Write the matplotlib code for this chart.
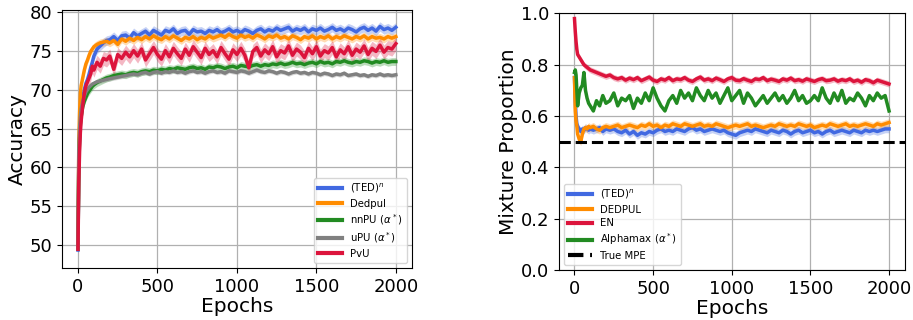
import matplotlib.pyplot as plt
import numpy as np

epochs = [0, 5, 10, 15, 20, 30, 40, 50, 60, 70, 80, 90, 100, 120, 140, 160, 180, 200] + list(range(225, 2001, 25))

# ---- left panel: accuracy ----
acc_ted = [49.4, 60.5, 64.0, 66.0, 67.5, 69.0, 70.0, 70.8, 71.3, 72.0, 72.8, 73.5, 74.3, 75.2, 75.6, 76.0, 76.3, 76.4,
           76.8, 76.3, 76.9, 77.0, 76.6, 77.3, 76.9, 77.2, 77.5, 77.0, 77.6, 77.3,
           77.0, 77.6, 77.4, 77.8, 77.2, 77.5, 77.6, 77.1, 77.7, 77.4, 77.5, 77.2,
           77.6, 77.4, 77.7, 77.3, 77.5, 77.8, 77.4, 77.6, 77.3, 77.7, 77.5, 77.2,
           77.6, 77.8, 77.4, 77.7, 77.5, 77.9, 77.6, 77.8, 78.0, 77.5, 77.8, 77.6,
           77.9, 77.4, 77.8, 77.6, 77.9, 77.5, 77.7, 78.0, 77.6, 77.8, 77.5, 77.9,
           77.7, 77.4, 77.8, 78.0, 77.6, 77.9, 77.5, 78.1, 77.7, 77.9, 77.6, 78.0]
acc_dedpul = [49.5, 63.0, 67.0, 69.5, 70.5, 71.5, 72.5, 73.3, 73.8, 74.4, 74.9, 75.2, 75.5, 75.8, 76.0, 76.1, 76.2, 76.0,
              76.3, 75.8, 76.5, 76.2, 76.6, 76.3, 76.7, 76.4, 76.8, 76.5, 76.9, 76.6,
              76.4, 76.8, 76.5, 76.9, 76.6, 76.3, 76.7, 76.5, 76.8, 76.4, 76.7, 76.5,
              76.9, 76.6, 76.8, 77.0, 76.7, 77.1, 76.8, 76.6, 77.0, 76.7, 76.9, 76.6,
              77.0, 76.8, 76.5, 76.9, 76.7, 77.0, 76.6, 76.8, 76.5, 76.9, 76.7, 76.4,
              76.8, 76.6, 76.9, 76.5, 76.8, 76.6, 76.9, 76.5, 76.8, 76.6, 76.9, 76.7,
              76.5, 76.8, 76.6, 76.9, 76.5, 76.8, 76.6, 76.7, 76.5, 76.8, 76.6, 76.8]
acc_nnpu = [49.5, 60.0, 63.5, 65.5, 66.5, 67.8, 68.5, 69.0, 69.5, 69.8, 70.1, 70.4, 70.6, 70.9, 71.1, 71.3, 71.5, 71.6,
            71.8, 71.9, 72.0, 71.9, 72.1, 72.2, 72.1, 72.3, 72.4, 72.3, 72.5, 72.4,
            72.6, 72.5, 72.7, 72.6, 72.8, 72.7, 72.6, 72.8, 72.9, 72.7, 72.8, 72.6,
            72.9, 72.8, 73.0, 72.9, 72.7, 72.9, 73.0, 72.8, 73.1, 73.0, 72.9, 73.1,
            73.2, 73.0, 73.2, 73.1, 73.3, 73.2, 73.4, 73.2, 73.3, 73.5, 73.3, 73.4,
            73.2, 73.4, 73.5, 73.3, 73.6, 73.4, 73.5, 73.3, 73.6, 73.5, 73.7, 73.5,
            73.4, 73.6, 73.5, 73.7, 73.6, 73.4, 73.6, 73.5, 73.7, 73.5, 73.6, 73.6]
acc_upu = [49.5, 62.0, 65.0, 66.5, 67.5, 68.5, 69.2, 69.7, 70.0, 70.3, 70.5, 70.7, 70.8, 71.0, 71.1, 71.2, 71.3, 71.4,
           71.5, 71.6, 71.7, 71.8, 71.9, 72.0, 71.9, 72.1, 72.2, 72.0, 72.2, 72.3,
           72.1, 72.3, 72.2, 72.4, 72.2, 72.3, 72.1, 72.3, 72.4, 72.2, 72.3, 72.1,
           72.3, 72.4, 72.2, 72.3, 72.1, 72.4, 72.3, 72.2, 72.4, 72.3, 72.1, 72.3,
           72.5, 72.3, 72.2, 72.4, 72.3, 72.1, 72.3, 72.2, 72.0, 72.2, 72.3, 72.1,
           72.2, 72.0, 72.2, 72.1, 71.9, 72.1, 72.0, 71.8, 72.0, 71.9, 72.1, 71.8,
           71.9, 72.0, 71.8, 71.9, 71.7, 71.9, 71.8, 72.0, 71.8, 71.9, 71.8, 71.9]
acc_pvu = [49.5, 58.0, 62.0, 64.5, 66.0, 68.0, 69.5, 70.5, 71.0, 71.5, 72.0, 73.0, 72.5, 73.5, 73.0, 74.0, 73.8, 74.3,
           72.6, 74.5, 74.0, 74.8, 74.2, 75.0, 74.3, 75.2, 73.8, 74.6, 75.4, 74.5,
           73.9, 75.0, 74.2, 75.3, 74.6, 74.0, 75.2, 74.4, 75.5, 74.8, 74.1, 75.3,
           74.5, 75.0, 74.2, 75.4, 74.6, 73.9, 75.1, 74.5, 75.3, 74.4, 72.8, 74.9,
           75.4, 74.3, 75.1, 74.6, 75.5, 74.2, 75.0, 74.7, 75.6, 74.4, 75.2, 74.8,
           74.1, 75.3, 74.6, 75.5, 74.3, 75.0, 74.7, 75.4, 74.2, 75.1, 74.6, 75.5,
           74.4, 75.2, 74.8, 75.6, 74.5, 75.3, 74.9, 75.7, 74.8, 75.4, 75.2, 75.9]
acc_series = [
    ("(TED)$^n$", acc_ted, 0.6, "royalblue"),
    ("Dedpul", acc_dedpul, 0.5, "darkorange"),
    ("nnPU ($\\alpha^*$)", acc_nnpu, 0.5, "forestgreen"),
    ("uPU ($\\alpha^*$)", acc_upu, 0.3, "grey"),
    ("PvU", acc_pvu, 0.9, "crimson"),
]

# ---- right panel: mixture proportion ----
mpe_ted = [0.75, 0.66, 0.60, 0.57, 0.56, 0.55, 0.54, 0.55, 0.545, 0.555, 0.55, 0.545, 0.55, 0.545, 0.55, 0.555, 0.54, 0.55,
           0.545, 0.55, 0.54, 0.535, 0.545, 0.53, 0.54, 0.525, 0.535, 0.53, 0.54, 0.535,
           0.545, 0.55, 0.54, 0.545, 0.54, 0.55, 0.545, 0.54, 0.55, 0.555, 0.545, 0.55,
           0.54, 0.545, 0.55, 0.545, 0.54, 0.545, 0.535, 0.53, 0.525, 0.535, 0.54, 0.545,
           0.54, 0.55, 0.545, 0.54, 0.535, 0.545, 0.54, 0.535, 0.545, 0.54, 0.53, 0.54,
           0.545, 0.535, 0.54, 0.545, 0.535, 0.54, 0.53, 0.54, 0.545, 0.535, 0.54, 0.545,
           0.54, 0.535, 0.545, 0.54, 0.535, 0.545, 0.54, 0.545, 0.54, 0.545, 0.55, 0.55]
mpe_dedpul = [0.75, 0.62, 0.58, 0.56, 0.53, 0.51, 0.50, 0.53, 0.55, 0.555, 0.55, 0.56, 0.555, 0.56, 0.55, 0.545, 0.555, 0.56,
              0.555, 0.56, 0.565, 0.555, 0.56, 0.565, 0.56, 0.555, 0.565, 0.56, 0.57, 0.56,
              0.565, 0.555, 0.565, 0.56, 0.57, 0.565, 0.56, 0.57, 0.565, 0.56, 0.565, 0.57,
              0.56, 0.565, 0.56, 0.57, 0.565, 0.56, 0.555, 0.56, 0.565, 0.56, 0.565, 0.57,
              0.56, 0.565, 0.56, 0.555, 0.56, 0.565, 0.56, 0.57, 0.565, 0.56, 0.565, 0.56,
              0.57, 0.565, 0.56, 0.565, 0.555, 0.56, 0.565, 0.56, 0.57, 0.565, 0.56, 0.565,
              0.57, 0.56, 0.565, 0.56, 0.565, 0.57, 0.565, 0.56, 0.57, 0.565, 0.57, 0.575]
mpe_en = [0.98, 0.93, 0.89, 0.86, 0.84, 0.83, 0.82, 0.81, 0.80, 0.795, 0.79, 0.785, 0.78, 0.775, 0.77, 0.765, 0.76, 0.755,
          0.76, 0.75, 0.745, 0.75, 0.74, 0.748, 0.742, 0.75, 0.738, 0.745, 0.752, 0.74,
          0.735, 0.745, 0.74, 0.75, 0.738, 0.745, 0.742, 0.75, 0.74, 0.735, 0.745, 0.752,
          0.74, 0.745, 0.738, 0.748, 0.742, 0.735, 0.745, 0.75, 0.74, 0.738, 0.746, 0.74,
          0.735, 0.745, 0.742, 0.75, 0.738, 0.744, 0.74, 0.735, 0.745, 0.74, 0.748, 0.738,
          0.742, 0.736, 0.745, 0.74, 0.735, 0.742, 0.746, 0.738, 0.74, 0.745, 0.736, 0.742,
          0.738, 0.745, 0.735, 0.74, 0.732, 0.742, 0.738, 0.73, 0.74, 0.735, 0.73, 0.725]
mpe_alphamax = [0.77, 0.78, 0.76, 0.70, 0.64, 0.69, 0.71, 0.72, 0.77, 0.70, 0.67, 0.65, 0.64, 0.62, 0.66, 0.64, 0.68, 0.65,
                0.66, 0.69, 0.64, 0.67, 0.66, 0.68, 0.63, 0.67, 0.65, 0.69, 0.66, 0.71,
                0.67, 0.64, 0.62, 0.66, 0.68, 0.65, 0.70, 0.67, 0.69, 0.66, 0.71, 0.68,
                0.66, 0.70, 0.67, 0.69, 0.65, 0.68, 0.71, 0.66, 0.68, 0.70, 0.65, 0.69,
                0.67, 0.64, 0.66, 0.68, 0.65, 0.67, 0.69, 0.66, 0.68, 0.65, 0.67, 0.70,
                0.66, 0.68, 0.65, 0.66, 0.68, 0.66, 0.71, 0.67, 0.65, 0.69, 0.66, 0.70,
                0.65, 0.67, 0.66, 0.69, 0.67, 0.64, 0.68, 0.66, 0.69, 0.67, 0.68, 0.62]
true_mpe = 0.5
mpe_series = [
    ("(TED)$^n$", mpe_ted, 0.015, "royalblue"),
    ("DEDPUL", mpe_dedpul, 0.015, "darkorange"),
    ("EN", mpe_en, 0.012, "crimson"),
    ("Alphamax ($\\alpha^*$)", mpe_alphamax, 0.004, "forestgreen"),
]

fig = plt.figure(figsize=(9.13, 3.2), dpi=100)
ax1 = fig.add_axes([0.068, 0.1625, 0.383, 0.806])
ax2 = fig.add_axes([0.612, 0.156, 0.379, 0.802])

x = np.array(epochs)
for ax, series in ((ax1, acc_series), (ax2, mpe_series)):
    for label, vals, sd, color in series:
        vals = np.array(vals)
        ax.fill_between(x, vals - sd, vals + sd, color=color, alpha=0.3, lw=0)
        ax.plot(x, vals, color=color, lw=2.5, label=label)

ax2.axhline(true_mpe, color="black", ls="--", lw=2.2, label="True MPE")
ax2.set_ylim(0, 1.0)

ax1.set_ylabel("Accuracy", fontsize=14.5, labelpad=2)
ax2.set_ylabel("Mixture Proportion", fontsize=14.5, labelpad=2)
for ax in (ax1, ax2):
    ax.set_xlabel("Epochs", fontsize=14.5, labelpad=1)
    ax.set_xticks([0, 500, 1000, 1500, 2000])
    ax.tick_params(labelsize=13)
    ax.grid(True, color="#b0b0b0", lw=0.9)
    ax.set_axisbelow(True)

leg1 = ax1.legend(loc="lower right", fontsize=7.3, handlelength=2.4, labelspacing=0.35)
leg2 = ax2.legend(loc="lower left", fontsize=7.3, handlelength=2.4, labelspacing=0.35)
for leg in (leg1, leg2):
    for h in leg.get_lines():
        h.set_linewidth(3)

plt.savefig("out.png", dpi=100)
plt.close()
